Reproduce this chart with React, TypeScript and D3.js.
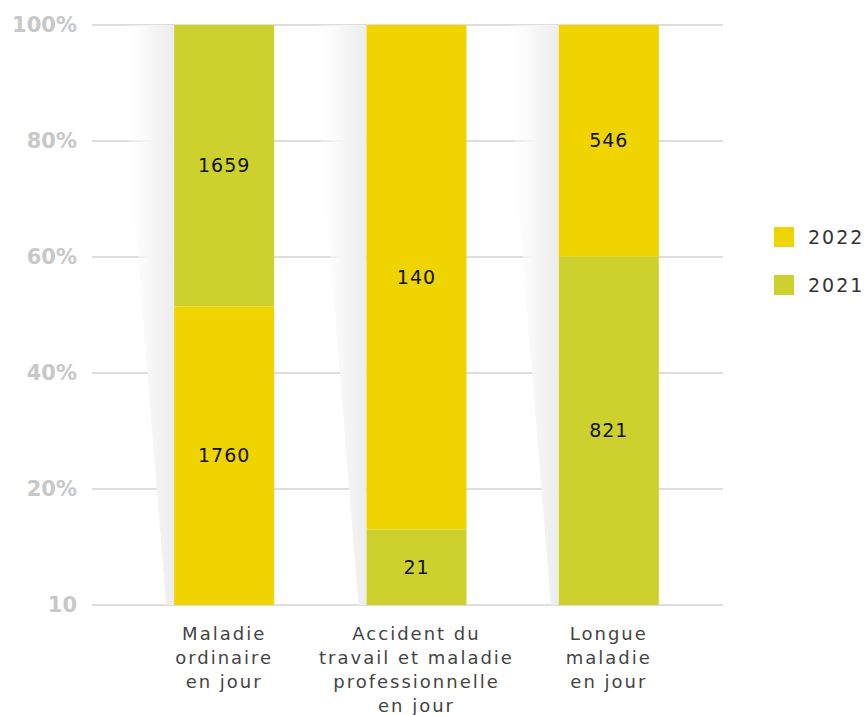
import React from 'react';
import * as d3 from 'd3';

const categories = [
  ['Maladie', 'ordinaire', 'en jour'],
  ['Accident du', 'travail et maladie', 'professionnelle', 'en jour'],
  ['Longue', 'maladie', 'en jour'],
];
const series = ['2022', '2021'];
const values2022 = [1760, 140, 546];
const values2021 = [1659, 21, 821];
// bottom-to-top stacking order for each bar
const stackOrder = [
  ['2022', '2021'],
  ['2021', '2022'],
  ['2021', '2022'],
];
const yTicks = [0, 0.2, 0.4, 0.6, 0.8, 1];
const yTickLabels = ['10', '20%', '40%', '60%', '80%', '100%'];

const colors: Record<string, string> = { '2022': '#f0d400', '2021': '#cdd12e' };
const font = "'DejaVu Sans', sans-serif";

export default function App() {
  const width = 866;
  const height = 715;
  const gridLeft = 92;
  const gridRight = 723;

  const y = d3.scaleLinear().domain([0, 1]).range([605, 25]);
  const x = d3
    .scaleBand<number>()
    .domain(d3.range(categories.length))
    .range([128, 705])
    .paddingInner(0.48)
    .paddingOuter(0.24);

  const bw = x.bandwidth();
  const valueOf = (s: string, i: number) => (s === '2022' ? values2022[i] : values2021[i]);

  return (
    <svg width={width} height={height} style={{ position: 'absolute', left: 0, top: 0 }}>
      <defs>
        <linearGradient id="shade" x1="0" x2="1" y1="0" y2="0">
          <stop offset="0" stopColor="#ffffff" stopOpacity="0" />
          <stop offset="0.6" stopColor="#f6f6f6" stopOpacity="1" />
          <stop offset="1" stopColor="#ececec" stopOpacity="1" />
        </linearGradient>
      </defs>

      {/* gridlines */}
      {yTicks.map((t) => (
        <line key={t} x1={gridLeft} x2={gridRight} y1={y(t)} y2={y(t)} stroke="#dedede" strokeWidth={2} />
      ))}

      {/* tick labels */}
      {yTicks.map((t, i) => (
        <text
          key={'l' + t}
          x={77}
          y={y(t)}
          dy="0.35em"
          textAnchor="end"
          fontFamily={font}
          fontSize={21}
          fontWeight={600}
          fill="#c8c8c8"
        >
          {yTickLabels[i]}
        </text>
      ))}

      {/* bars with shadows */}
      {categories.map((_, i) => {
        const x0 = x(i)!;
        const total = values2022[i] + values2021[i];
        let acc = 0;
        const segs = stackOrder[i].map((s) => {
          const v = valueOf(s, i) / total;
          const seg = { s, y0: acc, y1: acc + v, v: valueOf(s, i) };
          acc += v;
          return seg;
        });
        return (
          <g key={i}>
            <polygon
              points={`${x0 - 55},${y(1)} ${x0},${y(1)} ${x0},${y(0)} ${x0 - 8},${y(0)}`}
              fill="url(#shade)"
            />
            {segs.map((d) => (
              <rect key={d.s} x={x0} width={bw} y={y(d.y1)} height={y(d.y0) - y(d.y1)} fill={colors[d.s]} />
            ))}
            {segs.map((d) => (
              <text
                key={'t' + d.s}
                x={x0 + bw / 2}
                y={(y(d.y0) + y(d.y1)) / 2}
                dy="0.35em"
                textAnchor="middle"
                fontFamily={font}
                fontSize={19}
                letterSpacing={1}
                fill="#111"
              >
                {d.v}
              </text>
            ))}
          </g>
        );
      })}

      {/* category labels */}
      {categories.map((lines, i) => (
        <text
          key={'c' + i}
          x={x(i)! + bw / 2}
          y={640}
          textAnchor="middle"
          fontFamily={font}
          fontSize={18}
          letterSpacing={2}
          fill="#444"
        >
          {lines.map((ln, j) => (
            <tspan key={j} x={x(i)! + bw / 2} dy={j === 0 ? 0 : 24}>
              {ln}
            </tspan>
          ))}
        </text>
      ))}

      {/* legend */}
      {series.map((s, i) => (
        <g key={s} transform={`translate(774, ${227 + i * 48})`}>
          <rect width={20} height={20} fill={colors[s]} />
          <text x={34} y={10} dy="0.35em" fontFamily={font} fontSize={19} letterSpacing={2} fill="#333">
            {s}
          </text>
        </g>
      ))}
    </svg>
  );
}
